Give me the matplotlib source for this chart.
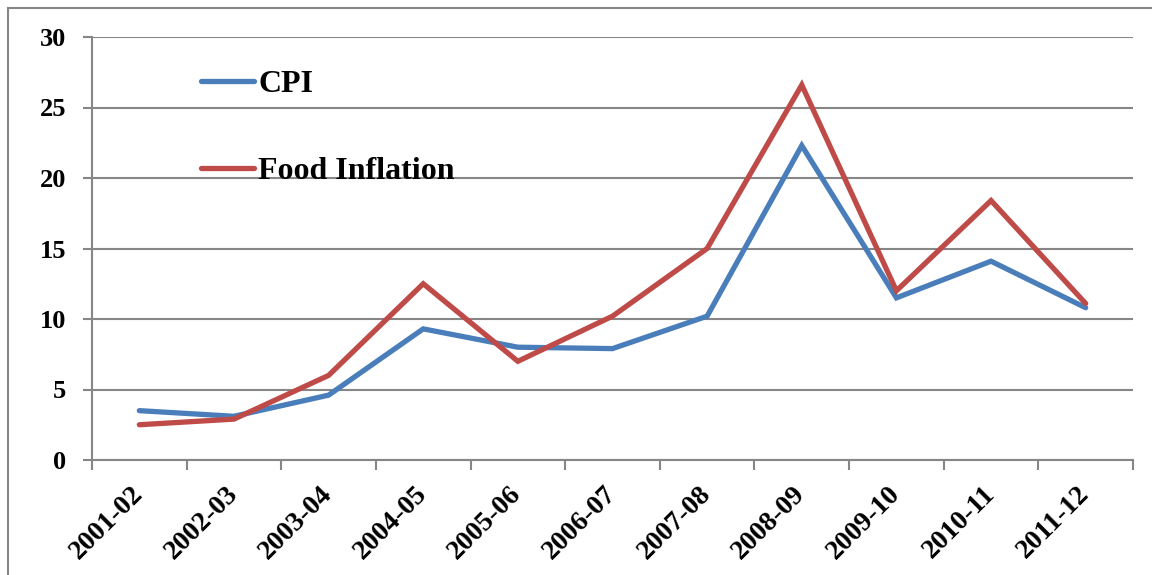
import numpy as np
import matplotlib
matplotlib.use('Agg')
from matplotlib import pyplot as plt
from matplotlib.patches import Rectangle


################################################################################
# Data

years = ['2001-02', '2002-03', '2003-04', '2004-05', '2005-06', '2006-07',
         '2007-08', '2008-09', '2009-10', '2010-11', '2011-12']

cpi  = [3.5, 3.1, 4.6, 9.3, 8.0, 7.9, 10.2, 22.3, 11.5, 14.1, 10.8]
food = [2.5, 2.9, 6.0, 12.5, 7.0, 10.2, 15.0, 26.6, 12.0, 18.4, 11.1]

yticks = [0, 5, 10, 15, 20, 25, 30]


################################################################################
# Figure

plt.rcParams['font.family'] = ['Liberation Serif', 'DejaVu Serif']
plt.rcParams['font.weight'] = 'bold'

grey = '#868686'

fig = plt.figure(figsize=(11.52, 5.75), dpi=100)
ax  = fig.add_axes([92/1152., 1-460/575., (1133-92)/1152., (460-37)/575.])

# outer chart border (only top and left edges fall inside the picture)
fig.patches.append(Rectangle((8/1152., -1.), 2., 2.-8/575., transform=fig.transFigure,
                             fill=False, edgecolor=grey, lw=1.5))

x = np.arange(len(years)) + 0.5

ax.plot(x, cpi,  color='#4A7EBB', lw=3.8, solid_capstyle='round',
        solid_joinstyle='miter', label='CPI', zorder=3)
ax.plot(x, food, color='#BE4B48', lw=3.8, solid_capstyle='round',
        solid_joinstyle='miter', label='Food Inflation', zorder=3)

# axes__________________________________________________________________________

ax.set_xlim(0, len(years))
ax.set_ylim(0, 30)

ax.set_yticks(yticks)
ax.set_yticklabels(['%d' % t for t in yticks])
ax.yaxis.grid(True, color=grey, lw=1.5)
ax.set_axisbelow(True)

# major ticks at category boundaries, labels at centres
ax.set_xticks(np.arange(len(years) + 1))
ax.set_xticklabels([])
ax.set_xticks(x, minor=True)
ax.set_xticklabels(years, minor=True, rotation=45, ha='right', va='center',
                   rotation_mode='anchor')

ax.tick_params(axis='x', which='major', length=7, width=1.5, color=grey, direction='out')
ax.tick_params(axis='x', which='minor', length=0, pad=22, labelsize=20)
ax.tick_params(axis='y', length=6.5, width=1.5, color=grey, pad=12, labelsize=19)

for s in ['top', 'right']:
    ax.spines[s].set_visible(False)
for s in ['left', 'bottom']:
    ax.spines[s].set_color(grey)
    ax.spines[s].set_linewidth(1.5)

leg = ax.legend(loc='upper left', bbox_to_anchor=(0.077, 0.99), frameon=False,
                fontsize=23, labelspacing=1.8, handlelength=1.65, handletextpad=0.15)

fig.savefig('out.png', dpi=100)
